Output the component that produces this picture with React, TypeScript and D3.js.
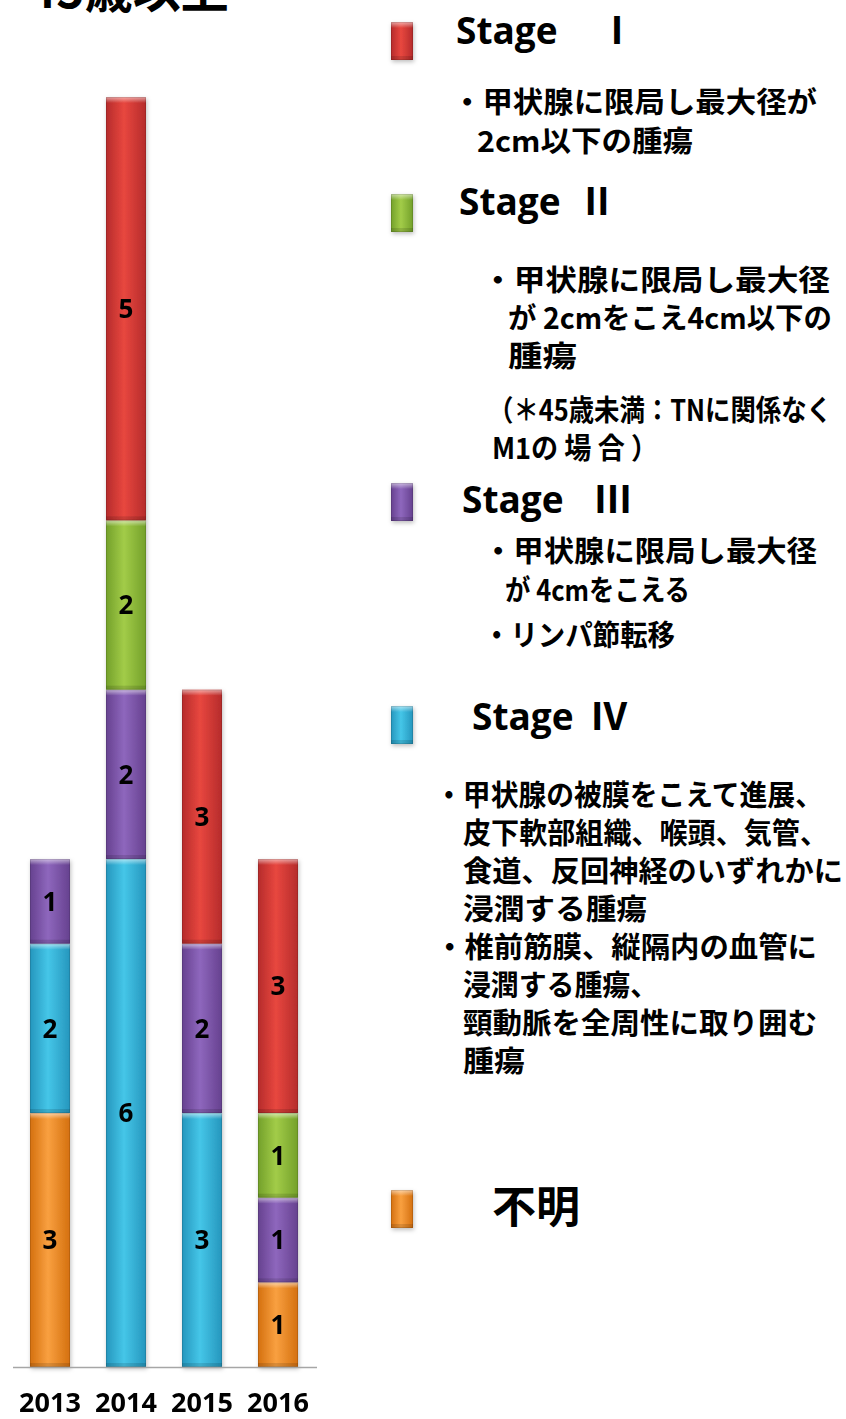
import React from 'react';
import * as d3 from 'd3';

// chart data
const years = ["2013", "2014", "2015", "2016"];
const unknownCounts = [3, 0, 0, 1];
const stage4Counts = [2, 6, 3, 0];
const stage3Counts = [1, 2, 2, 1];
const stage2Counts = [0, 2, 0, 1];
const stage1Counts = [0, 5, 3, 3];
const seriesKeys = ["unknown", "stage4", "stage3", "stage2", "stage1"];
const seriesColors = {
  unknown: ["#d4700f", "#f9a040"],
  stage4: ["#2596bd", "#45c6e8"],
  stage3: ["#66418f", "#8e67bd"],
  stage2: ["#73a02a", "#a2cc48"],
  stage1: ["#b52b2b", "#e8473f"]
};

const width = 846;
const height = 1419;
const baseY = 1367;

const FONT_LATIN = "'Open Sans', Lato, 'Noto Sans CJK JP', sans-serif";
const FONT_JP = "'Noto Sans CJK JP', 'Noto Sans', sans-serif";

export default function App() {
  const rows = years.map((y, i) => ({
    year: y,
    unknown: unknownCounts[i],
    stage4: stage4Counts[i],
    stage3: stage3Counts[i],
    stage2: stage2Counts[i],
    stage1: stage1Counts[i]
  }));

  const x = d3.scaleBand()
    .domain(years)
    .range([12, 316])
    .paddingInner(36 / 76)
    .paddingOuter(18 / 76);

  const y = d3.scaleLinear()
    .domain([0, 15])
    .range([baseY, 97]);

  const stacked = d3.stack().keys(seriesKeys)(rows as any);

  /**
   * legend blocks: marker, heading and description lines (w = rendered width)
   */
  const legend = [
    { key: "stage1", markerY: 22, head: "Stage", num: "Ⅰ", hx: 456, nx: 598, hy: 44,
      lines: [
        { t: "・甲状腺に限局し最大径が", x: 452, y: 113, w: 365 },
        { t: "2cm以下の腫瘍", x: 477, y: 152, w: 216 }
      ] },
    { key: "stage2", markerY: 194, head: "Stage", num: "Ⅱ", hx: 459, nx: 578, hy: 215,
      lines: [
        { t: "・甲状腺に限局し最大径", x: 482, y: 291, w: 348 },
        { t: "が 2cmをこえ4cm以下の", x: 508, y: 329, w: 324 },
        { t: "腫瘍", x: 508, y: 367, w: 69 },
        { t: "（＊45歳未満：TNに関係なく", x: 488, y: 421, w: 344 },
        { t: "M1の 場 合 ）", x: 492, y: 459, w: 166 }
      ] },
    { key: "stage3", markerY: 483, head: "Stage", num: "Ⅲ", hx: 462, nx: 594, hy: 513,
      lines: [
        { t: "・甲状腺に限局し最大径", x: 483, y: 562, w: 334 },
        { t: "が 4cmをこえる", x: 505, y: 601, w: 185 },
        { t: "・リンパ節転移", x: 483, y: 646, w: 192 }
      ] },
    { key: "stage4", markerY: 706, head: "Stage", num: "Ⅳ", hx: 472, nx: 590, hy: 730,
      lines: [
        { t: "・甲状腺の被膜をこえて進展、", x: 435, y: 806, w: 388 },
        { t: "皮下軟部組織、喉頭、気管、", x: 463, y: 844, w: 365 },
        { t: "食道、反回神経のいずれかに", x: 463, y: 882, w: 380 },
        { t: "浸潤する腫瘍", x: 463, y: 920, w: 184 },
        { t: "・椎前筋膜、縦隔内の血管に", x: 435, y: 958, w: 382 },
        { t: "浸潤する腫瘍、", x: 463, y: 996, w: 195 },
        { t: "頸動脈を全周性に取り囲む", x: 463, y: 1034, w: 354 },
        { t: "腫瘍", x: 463, y: 1072, w: 62 }
      ] },
    { key: "unknown", markerY: 1190, head: "不明", num: "", hx: 492, nx: 0, hy: 1223, lines: [] }
  ];

  const bevel = (bx, by, bw, bh, key) => (
    <g>
      <rect x={bx} y={by} width={bw} height={bh} fill={`url(#grad-${key})`} />
      <rect x={bx} y={by} width={bw} height={Math.min(6, bh)} fill="url(#bevelTop)" />
      <rect x={bx} y={by + bh - 4} width={bw} height={4} fill="#000" opacity={0.12} />
      <rect x={bx + 0.5} y={by + 0.5} width={bw - 1} height={bh - 1} fill="none" stroke="#000" strokeOpacity={0.12} />
    </g>
  );

  return (
    <svg width={width} height={height} style={{ position: "absolute", left: 0, top: 0, background: "#fff" }}>
      <defs>
        {seriesKeys.map(k => (
          <linearGradient key={k} id={`grad-${k}`} x1="0" x2="1" y1="0" y2="0">
            <stop offset="0%" stopColor={seriesColors[k][0]} />
            <stop offset="45%" stopColor={seriesColors[k][1]} />
            <stop offset="100%" stopColor={seriesColors[k][0]} />
          </linearGradient>
        ))}
        <linearGradient id="bevelTop" x1="0" x2="0" y1="0" y2="1">
          <stop offset="0%" stopColor="#fff" stopOpacity={0.55} />
          <stop offset="100%" stopColor="#fff" stopOpacity={0} />
        </linearGradient>
        <filter id="shadow" x="-30%" y="-10%" width="160%" height="130%">
          <feDropShadow dx="1" dy="2" stdDeviation="2" floodColor="#000" floodOpacity="0.25" />
        </filter>
      </defs>

      {/* title, cut off at the top edge */}
      <text x={28} y={8} fontFamily={FONT_JP} fontWeight="bold" fontSize={48} fill="#000">45歳以上</text>

      {/* stacked bars */}
      <g filter="url(#shadow)">
        {stacked.map(layer => (
          <g key={layer.key}>
            {layer.map((d, i) => {
              if (d[1] - d[0] <= 0) return null;
              const top = y(d[1]);
              const h = y(d[0]) - y(d[1]);
              return <g key={i}>{bevel(x(years[i]), top, x.bandwidth(), h, layer.key)}</g>;
            })}
          </g>
        ))}
      </g>

      {/* value labels */}
      {stacked.map(layer => layer.map((d, i) => d[1] - d[0] > 0 ? (
        <text key={layer.key + i} x={x(years[i]) + x.bandwidth() / 2} y={y((d[0] + d[1]) / 2)}
          dy="0.36em" textAnchor="middle" fontFamily={FONT_LATIN} fontWeight="bold" fontSize={26} fill="#000">
          {d[1] - d[0]}
        </text>
      ) : null))}

      {/* x-axis */}
      <line x1={13} x2={317} y1={baseY + 0.5} y2={baseY + 0.5} stroke="#a6a6a6" strokeWidth={1.5} />
      {years.map(yr => (
        <text key={yr} x={x(yr) + x.bandwidth() / 2} y={1412} textAnchor="middle"
          fontFamily={FONT_LATIN} fontWeight="bold" fontSize={27} fill="#000">{yr}</text>
      ))}

      {/* legend */}
      {legend.map(l => (
        <g key={l.key}>
          <g filter="url(#shadow)">{bevel(391, l.markerY, 22, 38, l.key)}</g>
          {l.num ? (
            <text y={l.hy} fontWeight="bold" fill="#000">
              <tspan x={l.hx} fontFamily={FONT_LATIN} fontSize={37}>{l.head}</tspan>
              <tspan x={l.nx} fontFamily={FONT_JP} fontSize={38}>{l.num}</tspan>
            </text>
          ) : (
            <text x={l.hx} y={l.hy} fontFamily={FONT_JP} fontWeight="bold" fontSize={44} fill="#000">{l.head}</text>
          )}
          {l.lines.map((ln, j) => (
            <text key={j} x={ln.x} y={ln.y} fontFamily={FONT_JP} fontWeight="bold" fontSize={29}
              textLength={ln.w} lengthAdjust="spacingAndGlyphs" fill="#000">{ln.t}</text>
          ))}
        </g>
      ))}
    </svg>
  );
}
